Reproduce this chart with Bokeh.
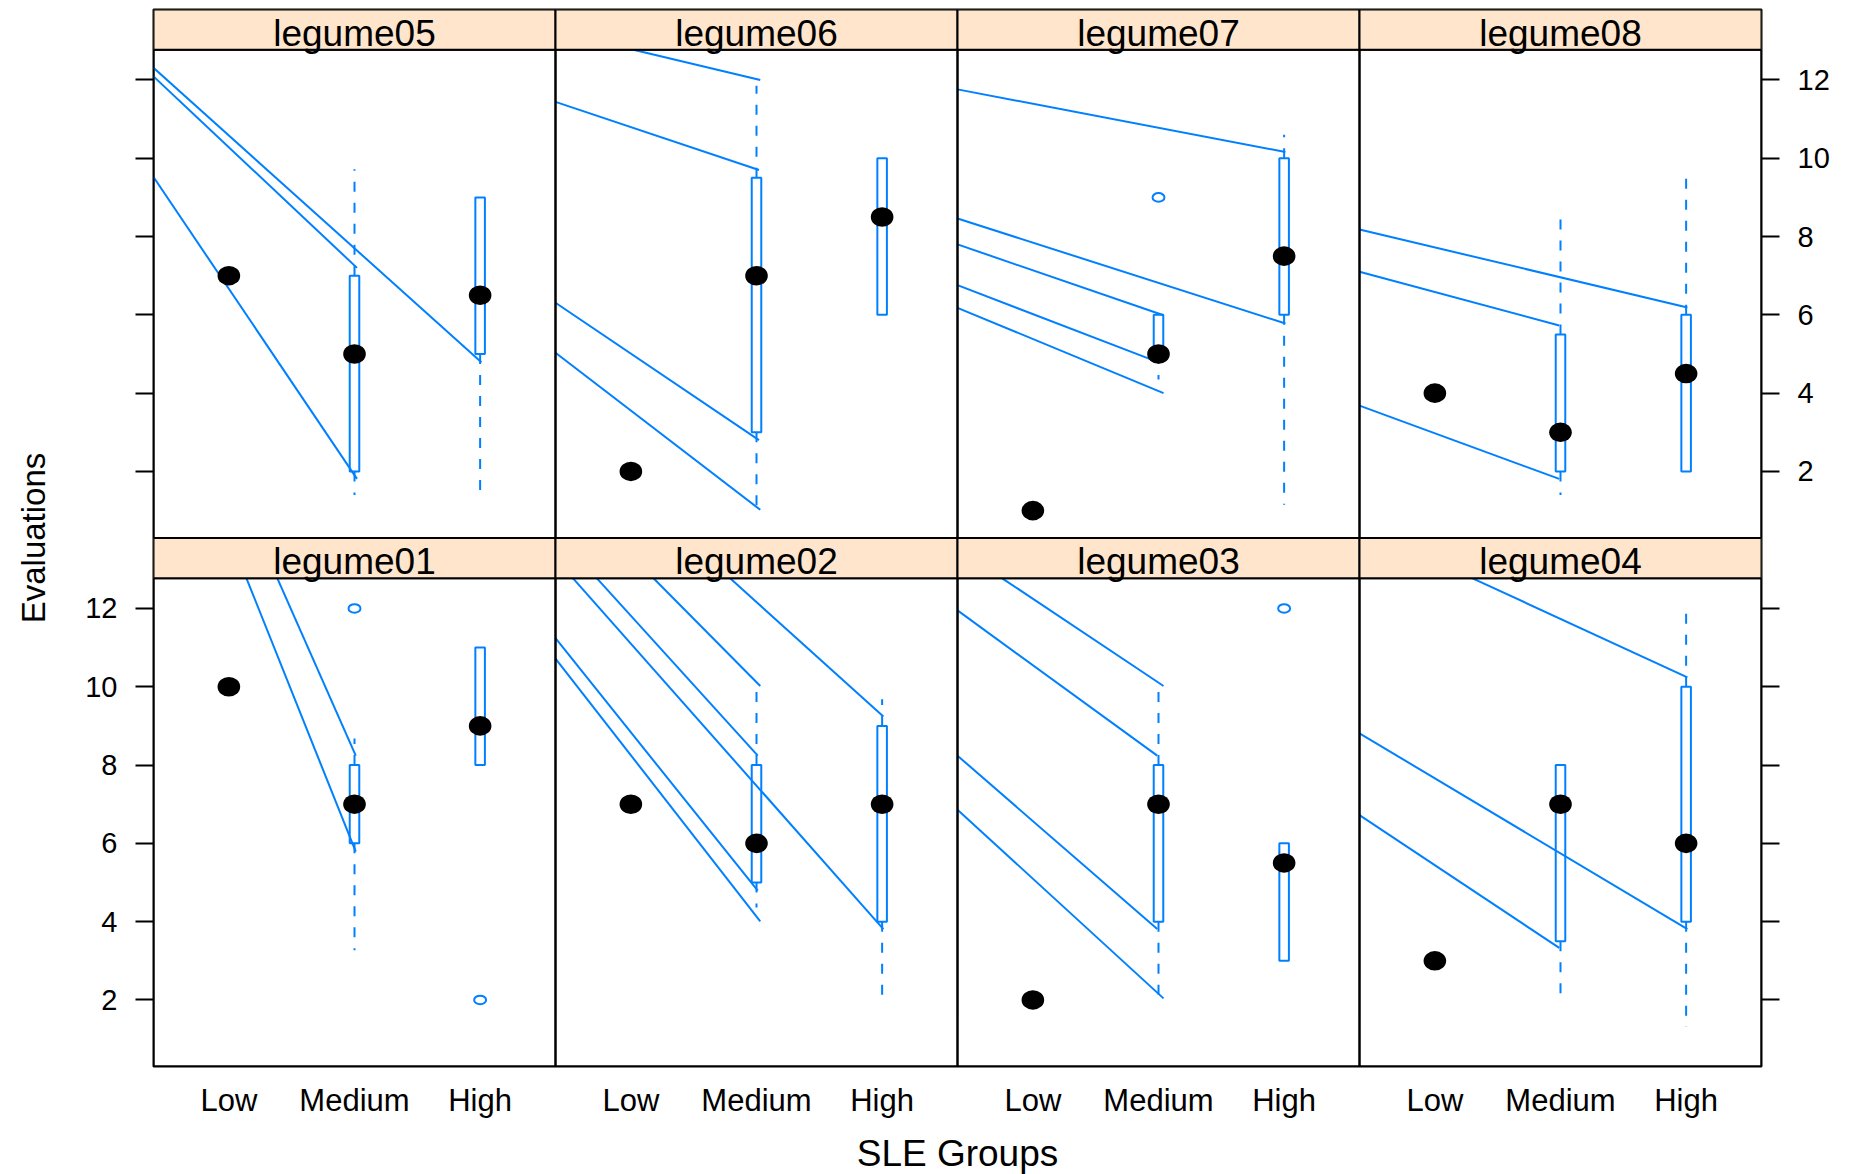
from bokeh.plotting import figure
from bokeh.models import Range1d, LinearAxis, FixedTicker
from bokeh.embed import file_html
from bokeh.resources import INLINE
from bokeh.core.properties import value

# ---------------- data ----------------
panel_names = ["legume01", "legume02", "legume03", "legume04",
               "legume05", "legume06", "legume07", "legume08"]
groups = ["Low", "Medium", "High"]

# per panel: [Low, Medium, High]
median = [[10, 7, 9], [7, 6, 7], [2, 7, 5.5], [3, 7, 6],
          [7, 5, 6.5], [2, 7, 8.5], [1, 5, 7.5], [4, 3, 4.5]]
q1 = [[10, 6, 8], [7, 5, 4], [2, 4, 3], [3, 3.5, 4],
      [7, 2, 5], [2, 3, 6], [1, 5, 6], [4, 2, 2]]
q3 = [[10, 8, 11], [7, 8, 9], [2, 8, 6], [3, 8, 10],
      [7, 7, 9], [2, 9.5, 10], [1, 6, 10], [4, 5.5, 6]]
whisk_lo = [[10, 3.27, 8], [7, 4.36, 2.13], [2, 2.13, 3], [3, 2.09, 1.31],
            [7, 1.4, 1.41], [2, 1.06, 6], [1, 4.35, 1.15], [4, 1.4, 2]]
whisk_hi = [[10, 8.68, 11], [7, 9.95, 9.68], [2, 10.0, 6], [3, 8, 11.93],
            [7, 9.72, 9], [2, 11.85, 10], [1, 6, 10.6], [4, 8.65, 9.57]]

outlier_panel = ["legume01", "legume01", "legume03", "legume07"]
outlier_group = ["Medium", "High", "High", "Medium"]
outlier_value = [12, 2, 12, 9]

# stray line segments in each panel (panel-local x / Evaluations units)
seg_panel = (["legume05"] * 3 + ["legume06"] * 4 + ["legume07"] * 5 + ["legume08"] * 3 +
             ["legume01"] * 2 + ["legume02"] * 6 + ["legume03"] * 4 + ["legume04"] * 3)
seg_x0 = [0.4, 0.4, 0.4,
          1.02, 0.4, 0.4, 0.4,
          0.4, 0.4, 0.4, 0.4, 0.4,
          0.4, 0.4, 0.4,
          1.14, 1.386,
          0.4, 0.4, 0.54, 0.73, 1.18, 1.79,
          0.756, 0.4, 0.4, 0.4,
          1.3, 0.4, 0.4]
seg_y0 = [12.31, 12.09, 9.52,
          12.77, 11.44, 6.31, 5.03,
          11.76, 8.46, 7.8, 6.76, 6.18,
          8.18, 7.1, 3.68,
          12.77, 12.77,
          11.24, 10.72, 12.77, 12.77, 12.77, 12.77,
          12.77, 11.95, 8.24, 6.86,
          12.77, 8.81, 6.72]
seg_x1 = [3.01, 2.02, 2.02,
          2.03, 2.02, 2.02, 2.03,
          3.01, 3.01, 2.04, 1.95, 2.04,
          3.01, 1.99, 1.99,
          2.01, 2.01,
          2.01, 2.03, 3.01, 2.01, 2.03, 3.01,
          2.04, 1.99, 1.99, 2.04,
          3.01, 3.01, 1.99]
seg_y1 = [4.79, 7.2, 1.81,
          12.0, 9.70, 2.8, 1.02,
          10.16, 5.78, 5.99, 4.85, 4.0,
          6.19, 5.73, 1.81,
          5.79, 8.24,
          4.79, 4.01, 3.81, 8.24, 10.02, 9.24,
          10.02, 8.24, 3.81, 2.04,
          10.24, 3.81, 3.33]

y_ticks = [2, 4, 6, 8, 10, 12]

# ---------------- layout constants ----------------
X_LO, X_HI = 0.4, 3.6
XSPAN = X_HI - X_LO
Y_LO, Y_HI = 0.3, 12.77
STRIP_H = 1.03
YOFF = 13.5               # offset of the top row
BLUE = "#0080ff"
STRIP = "#ffe5cc"
FONT = "Liberation Sans"
BOX_HALF = 0.038


def pos(name):
    i = panel_names.index(name)
    col = i % 4
    row = 0 if i < 4 else 1
    return col, row


def gx(col, x):
    return x + col * XSPAN


def gy(row, v):
    return v + row * YOFF


p = figure(frame_width=1608, frame_height=1057,
           x_range=Range1d(X_LO, X_LO + 4 * XSPAN),
           y_range=Range1d(Y_LO, YOFF + Y_HI + STRIP_H),
           x_axis_location=None, y_axis_location=None,
           output_backend="svg", toolbar_location=None,
           min_border_left=153, min_border_right=88,
           min_border_top=9, min_border_bottom=108)
p.grid.visible = False
p.outline_line_color = "black"
p.outline_line_width = 2
p.background_fill_color = "white"
p.border_fill_color = "white"

# panel frames and strips
pl, pr, pb, pt, sb, st, sx, ty, labels = [], [], [], [], [], [], [], [], []
for name in panel_names:
    col, row = pos(name)
    pl.append(gx(col, X_LO)); pr.append(gx(col, X_HI))
    pb.append(gy(row, Y_LO)); pt.append(gy(row, Y_HI))
    sb.append(gy(row, Y_HI)); st.append(gy(row, Y_HI) + STRIP_H)
    sx.append(gx(col, 2.0)); ty.append(gy(row, Y_HI) + 0.42)
    labels.append(name)

# stray lines
sx0, sy0, sx1, sy1 = [], [], [], []
for n, a, b, c, d in zip(seg_panel, seg_x0, seg_y0, seg_x1, seg_y1):
    col, row = pos(n)
    sx0.append(gx(col, a)); sy0.append(gy(row, b))
    sx1.append(gx(col, c)); sy1.append(gy(row, d))
p.segment(x0=sx0, y0=sy0, x1=sx1, y1=sy1, line_color=BLUE, line_width=2)

# boxes, whiskers, medians
bl, br, bb, bt = [], [], [], []
wx, wy0, wy1 = [], [], []
mx, my = [], []
for i, name in enumerate(panel_names):
    col, row = pos(name)
    for j, g in enumerate(groups):
        x = gx(col, j + 1)
        bl.append(x - BOX_HALF); br.append(x + BOX_HALF)
        bb.append(gy(row, q1[i][j])); bt.append(gy(row, q3[i][j]))
        if whisk_hi[i][j] > q3[i][j]:
            wx.append(x); wy0.append(gy(row, q3[i][j])); wy1.append(gy(row, whisk_hi[i][j]))
        if whisk_lo[i][j] < q1[i][j]:
            wx.append(x); wy0.append(gy(row, q1[i][j])); wy1.append(gy(row, whisk_lo[i][j]))
        mx.append(x); my.append(gy(row, median[i][j]))

p.segment(x0=wx, y0=wy0, x1=wx, y1=wy1, line_color=BLUE, line_width=2,
          line_dash="10 11")
p.quad(left=bl, right=br, bottom=bb, top=bt, fill_color=None,
       line_color=BLUE, line_width=2)

ox, oy = [], []
for n, g, v in zip(outlier_panel, outlier_group, outlier_value):
    col, row = pos(n)
    ox.append(gx(col, groups.index(g) + 1)); oy.append(gy(row, v))
p.ellipse(x=ox, y=oy, width=0.095, height=0.22, fill_color=None,
          line_color=BLUE, line_width=2)

p.ellipse(x=mx, y=my, width=0.18, height=0.5, fill_color="black", line_color=None)

# frames and strips on top
p.quad(left=pl, right=pr, bottom=pb, top=pt, fill_color=None,
       line_color="black", line_width=2)
p.quad(left=pl, right=pr, bottom=sb, top=st, fill_color=STRIP,
       line_color="black", line_width=2)
p.text(x=sx, y=ty, text=labels, text_font=value(FONT), text_font_size="37px",
       text_align="center", text_baseline="middle", text_color="black")

# axes
bottom_ticks = [float(t) for t in y_ticks]
top_ticks = [float(t + YOFF) for t in y_ticks]

left = LinearAxis(ticker=FixedTicker(ticks=bottom_ticks + top_ticks))
left.major_label_overrides = {**{t: str(int(t)) for t in bottom_ticks},
                              **{t: "" for t in top_ticks}}
right = LinearAxis(ticker=FixedTicker(ticks=bottom_ticks + top_ticks))
right.major_label_overrides = {**{t: "" for t in bottom_ticks},
                               **{t: str(int(t - YOFF)) for t in top_ticks}}
for ax in (left, right):
    ax.axis_line_color = None
    ax.major_tick_out = 18
    ax.major_tick_in = 0
    ax.major_tick_line_width = 2
    ax.major_tick_line_color = "black"
    ax.minor_tick_line_color = None
    ax.major_label_standoff = 18
    ax.major_label_text_font = FONT
    ax.major_label_text_font_size = "29px"
    ax.major_label_text_color = "black"
left.axis_label = "Evaluations"
left.axis_label_text_font = FONT
left.axis_label_text_font_size = "33px"
left.axis_label_text_font_style = "normal"
left.axis_label_text_color = "black"
left.axis_label_standoff = 30
p.add_layout(left, "left")
p.add_layout(right, "right")

x_ticks = []
x_over = {}
for c in range(4):
    for k, g in enumerate(groups):
        t = round(c * XSPAN + k + 1, 6)
        x_ticks.append(t)
        x_over[t] = g
bottom = LinearAxis(ticker=FixedTicker(ticks=x_ticks))
bottom.major_label_overrides = x_over
bottom.axis_line_color = None
bottom.major_tick_line_color = None
bottom.major_tick_out = 0
bottom.major_tick_in = 0
bottom.minor_tick_line_color = None
bottom.major_label_standoff = 16
bottom.major_label_text_font = FONT
bottom.major_label_text_font_size = "31px"
bottom.major_label_text_color = "black"
bottom.axis_label = "SLE Groups"
bottom.axis_label_text_font = FONT
bottom.axis_label_text_font_size = "37px"
bottom.axis_label_text_font_style = "normal"
bottom.axis_label_text_color = "black"
bottom.axis_label_standoff = 12
p.add_layout(bottom, "below")

open("out.html", "w").write(file_html(p, INLINE))
